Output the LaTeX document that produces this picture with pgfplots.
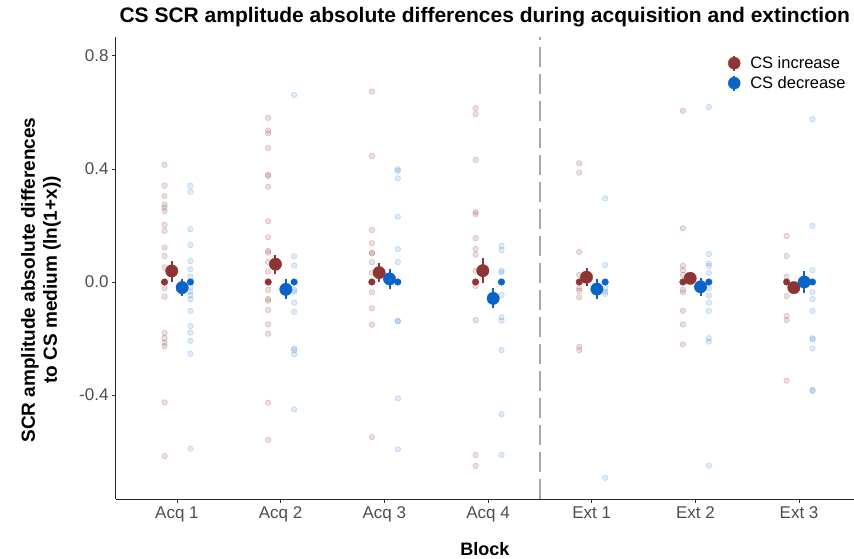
\documentclass[border=0pt]{standalone}
\usepackage{fontspec}
\setmainfont{Liberation Sans}
\usepackage{pgfplots}
\usepackage{pgfplotstable}
\pgfplotsset{compat=1.18}
\definecolor{cred}{HTML}{8E3434}
\definecolor{cblue}{HTML}{0A64C8}
\definecolor{tickgray}{HTML}{4D4D4D}
\definecolor{dashgray}{HTML}{A6A6A6}

\pgfplotstableread{
c v
1 0.415
1 0.341
1 0.304
1 0.274
1 0.263
1 0.251
1 0.202
1 0.181
1 0.122
1 0.092
1 0.052
1 -0.022
1 -0.052
1 -0.181
1 -0.199
1 -0.215
1 -0.227
1 -0.426
1 -0.616
2 0.581
2 0.536
2 0.526
2 0.474
2 0.380
2 0.375
2 0.337
2 0.215
2 0.158
2 0.110
2 0.104
2 0.071
2 0.037
2 -0.028
2 -0.060
2 -0.066
2 -0.099
2 -0.150
2 -0.183
2 -0.427
2 -0.559
3 0.674
3 0.446
3 0.184
3 0.137
3 0.104
3 0.101
3 0.070
3 0.033
3 -0.036
3 -0.093
3 -0.151
3 -0.549
4 0.615
4 0.594
4 0.432
4 0.247
4 0.240
4 0.155
4 0.117
4 0.097
4 0.040
4 -0.014
4 -0.135
4 -0.612
4 -0.651
5 0.420
5 0.387
5 0.107
5 0.025
5 -0.022
5 -0.031
5 -0.054
5 -0.229
5 -0.241
6 0.606
6 0.190
6 0.057
6 0.042
6 0.025
6 -0.028
6 -0.037
6 -0.102
6 -0.150
6 -0.221
7 0.163
7 0.092
7 0.019
7 -0.050
7 -0.120
7 -0.135
7 -0.349
}\redraw

\pgfplotstableread{
c v
1 0.341
1 0.319
1 0.187
1 0.131
1 0.074
1 0.045
1 0.019
1 -0.017
1 -0.034
1 -0.046
1 -0.061
1 -0.102
1 -0.156
1 -0.179
1 -0.208
1 -0.254
1 -0.590
2 0.662
2 0.091
2 0.058
2 -0.028
2 -0.034
2 -0.073
2 -0.106
2 -0.235
2 -0.241
2 -0.256
2 -0.451
3 0.399
3 0.393
3 0.367
3 0.231
3 0.116
3 0.071
3 -0.137
3 -0.140
3 -0.412
3 -0.592
4 0.128
4 0.113
4 0.040
4 0.034
4 -0.046
4 -0.125
4 -0.137
4 -0.241
4 -0.468
4 -0.612
5 0.296
5 0.060
5 -0.022
5 -0.034
5 -0.042
5 -0.693
6 0.619
6 0.099
6 0.066
6 0.057
6 0.031
6 -0.022
6 -0.048
6 -0.073
6 -0.102
6 -0.199
6 -0.211
6 -0.650
7 0.576
7 0.199
7 0.042
7 -0.036
7 -0.061
7 -0.102
7 -0.199
7 -0.203
7 -0.235
7 -0.382
7 -0.385
}\blueraw

\pgfplotstableread{
c v
1 0
2 0
3 0
4 0
5 0
6 0
7 0
}\zeros

\pgfplotstableread{
c m ep em
1 0.039 0.035 0.039
2 0.063 0.033 0.036
3 0.033 0.033 0.032
4 0.040 0.044 0.045
5 0.017 0.031 0.031
6 0.013 0.018 0.018
7 -0.020 0.011 0.011
}\redmean

\pgfplotstableread{
c m ep em
1 -0.020 0.030 0.028
2 -0.026 0.036 0.035
3 0.011 0.034 0.037
4 -0.058 0.036 0.033
5 -0.025 0.035 0.035
6 -0.017 0.030 0.031
7 0.000 0.040 0.040
}\bluemean

\begin{document}
\begin{tikzpicture}
\useasboundingbox (-116pt,-59pt) rectangle (738pt,499pt);
\begin{axis}[
  scale only axis, width=738pt, height=462pt,
  xmin=0.412, xmax=7.53, ymin=-0.768, ymax=0.867,
  axis x line*=bottom, axis y line*=left,
  axis line style={-, draw=black!85, line width=1pt},
  xtick={1,2,3,4,5,6,7},
  xticklabels={Acq 1,Acq 2,Acq 3,Acq 4,Ext 1,Ext 2,Ext 3},
  ytick={-0.4,0,0.4,0.8}, yticklabels={-0.4,0.0,0.4,0.8},
  tick align=outside, major tick length=4pt,
  tick style={black!80, line width=0.9pt},
  ticklabel style={font=\fontsize{17}{19}\selectfont, text=tickgray},
  title={CS SCR amplitude absolute differences during acquisition and extinction},
  title style={at={(axis description cs:0,1)}, anchor=base west, yshift=9pt, font=\fontsize{21}{24}\selectfont\bfseries},
  xlabel={Block},
  xlabel style={at={(axis description cs:0.5,-0.108)}, anchor=center, font=\fontsize{18}{21}\selectfont\bfseries},
  ylabel={SCR amplitude absolute differences\\to CS medium (ln(1+x))},
  ylabel style={at={(axis description cs:-0.1016,0.474)}, anchor=center, align=center, font=\fontsize{19}{22}\selectfont\bfseries},
  legend style={at={(axis description cs:0.825,0.967)}, anchor=north west, draw=none, fill=none, font=\fontsize{16.5}{19}\selectfont, row sep=2.5pt},
  legend cell align=left,
  clip=true,
]
\addlegendimage{legend image code/.code={\path[draw=none, fill=none] (-6pt,0pt) rectangle (14pt,0pt); \draw[cred, line width=2pt] (0pt,-7.5pt) -- (0pt,7.5pt); \fill[cred] (0pt,0pt) circle (6pt);}}
\addlegendentry{CS increase}
\addlegendimage{legend image code/.code={\path[draw=none, fill=none] (-6pt,0pt) rectangle (14pt,0pt); \draw[cblue, line width=2pt] (0pt,-7.5pt) -- (0pt,7.5pt); \fill[cblue] (0pt,0pt) circle (6pt);}}
\addlegendentry{CS decrease}

\addplot[dashgray, line width=2.2pt, dash pattern=on 20pt off 7pt, forget plot] coordinates {(4.5,-0.768) (4.5,0.867)};

\addplot[only marks, mark=*, mark size=2.8pt, forget plot, mark options={draw=cred, fill=cred, draw opacity=0.32, fill opacity=0.16}] table[x expr=\thisrow{c}-0.12, y=v] {\redraw};
\addplot[only marks, mark=*, mark size=2.8pt, forget plot, mark options={draw=cblue, fill=cblue, draw opacity=0.27, fill opacity=0.13}] table[x expr=\thisrow{c}+0.13, y=v] {\blueraw};

\addplot[only marks, mark=*, mark size=3.3pt, cred, forget plot] table[x expr=\thisrow{c}-0.12, y=v] {\zeros};
\addplot[only marks, mark=*, mark size=3.3pt, cblue, forget plot] table[x expr=\thisrow{c}+0.13, y=v] {\zeros};

\addplot[only marks, mark=*, mark size=6.2pt, cred, forget plot,
  error bars/.cd, y dir=both, y explicit, error mark=none,
  error bar style={line width=2pt, cred}]
  table[x expr=\thisrow{c}-0.05, y=m, y error plus=ep, y error minus=em] {\redmean};
\addplot[only marks, mark=*, mark size=6.2pt, cblue, forget plot,
  error bars/.cd, y dir=both, y explicit, error mark=none,
  error bar style={line width=2pt, cblue}]
  table[x expr=\thisrow{c}+0.05, y=m, y error plus=ep, y error minus=em] {\bluemean};
\end{axis}
\end{tikzpicture}
\end{document}
